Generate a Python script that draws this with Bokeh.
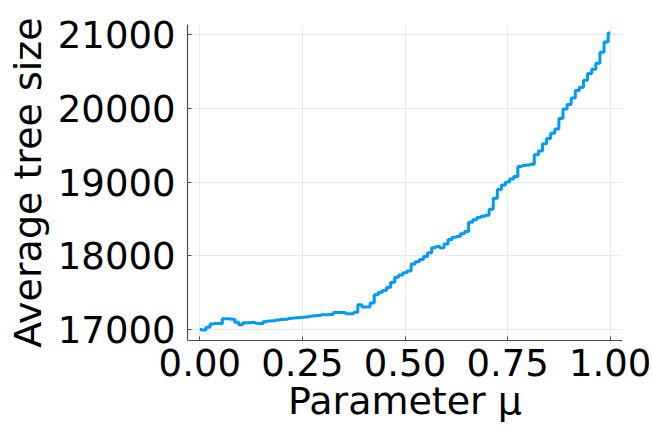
from bokeh.plotting import figure
from bokeh.models import Range1d, FixedTicker
from bokeh.embed import file_html
from bokeh.resources import INLINE

# Parameter mu values and average tree sizes
mu = [round(i * 0.01, 2) for i in range(101)]
avg_tree_size = [
    17000, 16995, 17030, 17075, 17080, 17080, 17145, 17145, 17140, 17100,
    17065, 17090, 17090, 17095, 17085, 17080, 17110, 17115, 17120, 17130,
    17135, 17140, 17150, 17155, 17158, 17165, 17170, 17180, 17185, 17190,
    17200, 17200, 17205, 17230, 17232, 17230, 17215, 17215, 17235, 17335,
    17305, 17305, 17360, 17470, 17505, 17530, 17570, 17640, 17710, 17740,
    17770, 17795, 17890, 17920, 17950, 17990, 18040, 18110, 18125, 18105,
    18160, 18220, 18250, 18260, 18300, 18330, 18455, 18490, 18520, 18535,
    18550, 18630, 18780, 18900, 18960, 19000, 19040, 19075, 19210, 19225,
    19230, 19240, 19370, 19420, 19520, 19590, 19660, 19720, 19860, 19990,
    20050, 20140, 20240, 20285, 20380, 20470, 20530, 20610, 20760, 20900,
    21020,
]
x_ticks = [0.0, 0.25, 0.5, 0.75, 1.0]
x_tick_labels = ["0.00", "0.25", "0.50", "0.75", "1.00"]
y_ticks = [17000, 18000, 19000, 20000, 21000]
x_label = "Parameter μ"
y_label = "Average tree size"

FONT = "DejaVu Sans"

p = figure(width=652, height=431, output_backend="svg", toolbar_location=None,
           x_range=Range1d(-0.03, 1.03), y_range=Range1d(16851, 21136),
           min_border_left=187, min_border_right=30, min_border_top=24,
           min_border_bottom=91)
p.outline_line_color = None
p.background_fill_color = "white"
p.border_fill_color = "white"

p.step(mu, avg_tree_size, mode="center", line_color="#009AFA", line_width=3)

for ax in (p.xaxis[0], p.yaxis[0]):
    ax.axis_line_color = "#4d4d4d"
    ax.axis_line_width = 1.2
    ax.major_tick_in = 4
    ax.major_tick_out = 0
    ax.major_tick_line_color = "#4d4d4d"
    ax.minor_tick_line_color = None
    ax.major_label_text_font = FONT
    ax.major_label_text_font_size = "37px"
    ax.major_label_text_color = "black"
    ax.axis_label_text_font = FONT
    ax.axis_label_text_font_size = "38px"
    ax.axis_label_text_font_style = "normal"
    ax.axis_label_text_color = "black"

p.xaxis.ticker = FixedTicker(ticks=x_ticks)
p.xaxis.major_label_overrides = {t: l for t, l in zip(x_ticks, x_tick_labels)}
p.yaxis.ticker = FixedTicker(ticks=y_ticks)
p.xaxis.axis_label = x_label
p.yaxis.axis_label = y_label
p.xaxis.major_label_standoff = 8
p.yaxis.major_label_standoff = 12
p.xaxis.axis_label_standoff = 0
p.yaxis.axis_label_standoff = 5

p.xgrid.ticker = FixedTicker(ticks=x_ticks)
p.ygrid.ticker = FixedTicker(ticks=y_ticks)
for g in (p.xgrid[0], p.ygrid[0]):
    g.grid_line_color = "black"
    g.grid_line_alpha = 0.08
    g.grid_line_width = 1

open("out.html", "w").write(file_html(p, INLINE))
